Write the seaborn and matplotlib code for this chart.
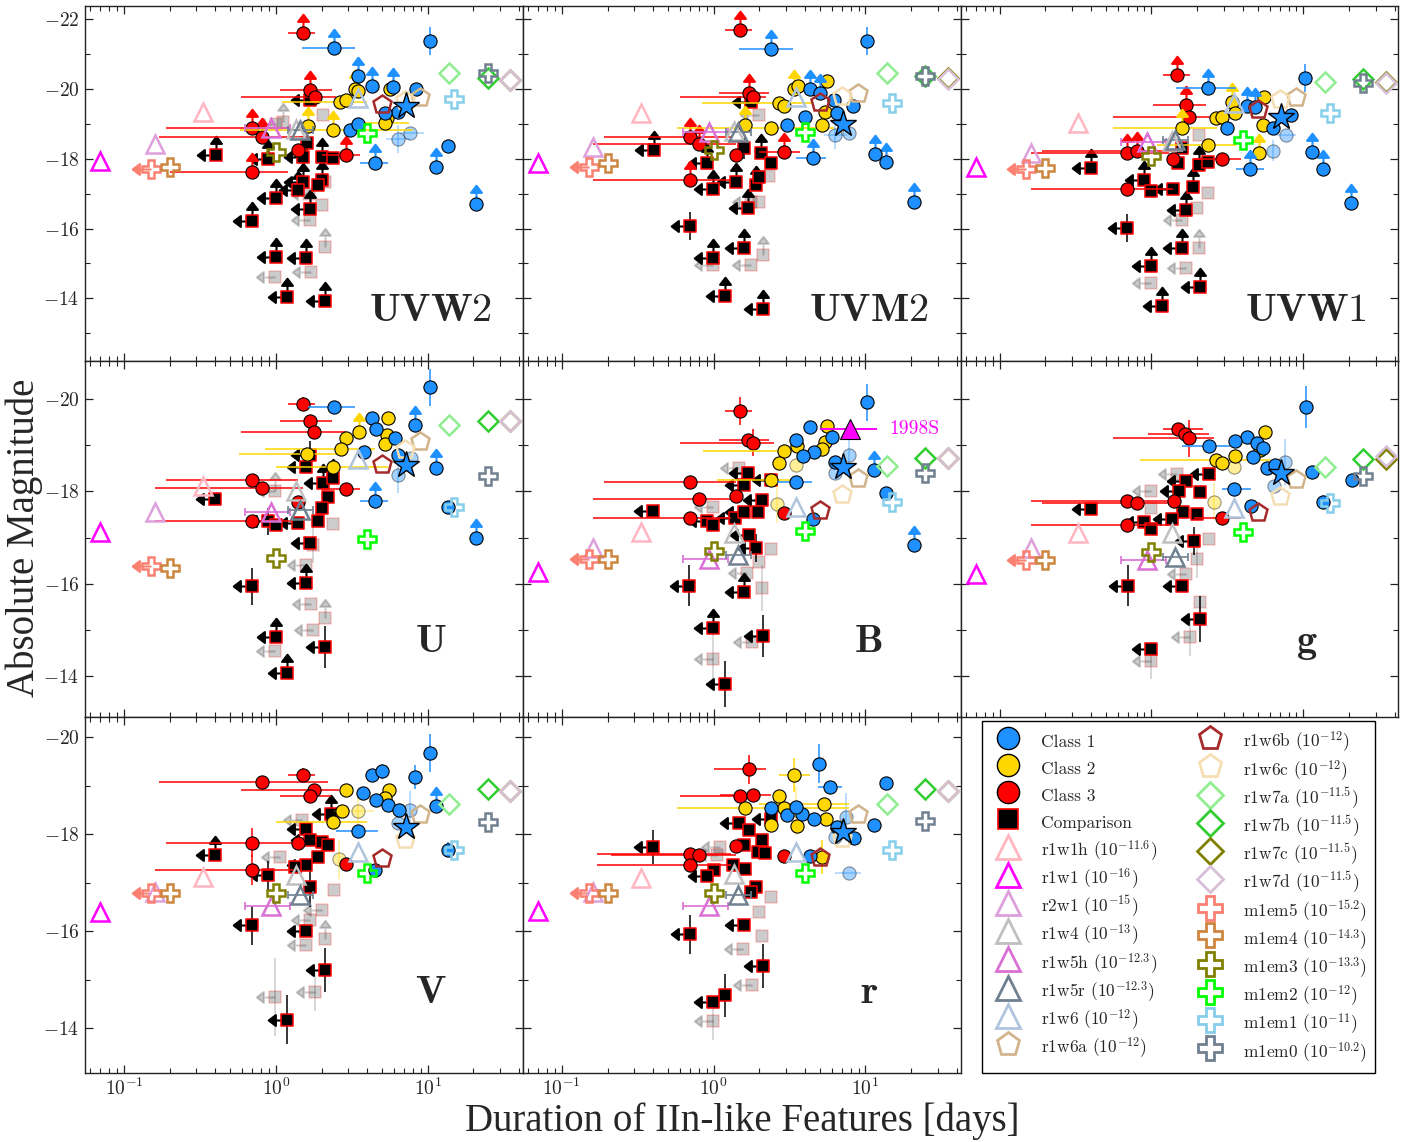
import numpy as np
import pandas as pd
import matplotlib
matplotlib.use("Agg")
import matplotlib.pyplot as plt
from matplotlib.path import Path
from matplotlib.transforms import Affine2D
from matplotlib.lines import Line2D
from matplotlib.ticker import MultipleLocator, LogLocator, FuncFormatter, NullFormatter
import seaborn as sns

# ---------------------------------------------------------------------------
# Data.  Each sample row: (duration [d], peak abs. mag, flags, dur_lo, dur_hi, mag_err)
# flags: 'L' = duration is an upper limit, 'U' = magnitude is a brightness lower limit,
#        'f' = uncertain object (drawn faded)
# ---------------------------------------------------------------------------
BANDS = ["UVW2", "UVM2", "UVW1", "U", "B", "g", "V", "r"]

CLASS1_UVW2 = [(2.41, -21.19, "U", 1.48, 3.31), (10.3, -21.39, "", None, None, 0.4),
               (3.49, -20.37, "U"), (4.27, -20.09, "U"), (5.93, -20.05, "U"), (8.36, -19.99),
               (6.39, -19.35), (5.2, -19.30), (3.07, -18.83), (3.5, -19.0),
               (4.49, -17.87, "U", 3.6, 5.5), (11.4, -17.77, "U"), (13.6, -18.38), (20.8, -16.70, "U"),
               (6.39, -18.56, "f", 5.3, 7.6, 0.4), (7.71, -18.73, "f", 6.6, 9.5)]
CLASS2_UVW2 = [(2.39, -18.83, "U", 0.58, 8.0), (2.64, -19.62, "", 1.1, 4.0), (2.92, -19.69),
               (3.31, -19.99, "U"), (3.49, -19.93), (5.63, -19.99), (5.36, -19.16),
               (5.22, -19.02, "", 3.5, 7.5), (1.63, -18.94, "U")]
CLASS3_UVW2 = [(1.50, -21.60, "U", 1.21, 1.81), (1.67, -19.97, "U", 1.06, 2.33),
               (1.81, -19.78, "", 0.59, 2.5), (0.70, -18.87, "U", 0.19, 1.24),
               (0.805, -18.63, "U", 0.17, 1.5), (1.40, -18.25), (2.92, -18.11, "U", 2.0, 3.6),
               (0.70, -17.61, "U", 0.2, 1.2)]
COMPARISON_UVW2 = [(0.403, -18.11, "LU"), (1.69, -19.69, "L"), (1.60, -18.45, "", None, None, 0.3),
                   (0.89, -17.98, "LU"), (1.51, -18.06, "L"), (2.0, -18.06, "U"), (2.39, -18.01),
                   (1.51, -17.34, "LU"), (2.0, -17.39, "U"), (1.9, -17.25), (1.39, -17.10, "LU"),
                   (1.0, -16.88, "LU"), (1.69, -16.56, "LU"), (0.70, -16.22, "LU"), (1.0, -15.19, "LU"),
                   (1.59, -15.16, "LU"), (1.19, -14.05, "LU"), (2.10, -13.93, "LU"),
                   (1.12, -19.06, "fU"), (2.03, -19.26, "f"), (1.0, -19.0, "fL"), (2.1, -17.34, "f"),
                   (2.0, -16.67, "f"), (1.67, -16.24, "fL"), (2.1, -15.48, "fU"), (0.99, -14.62, "fL"),
                   (1.71, -14.76, "fL"), (1.65, -17.0, "fL")]

CLASS1_UVM2 = [(2.39, -21.14, "U", 1.46, 3.33), (10.3, -21.39, "", None, None, 0.4),
               (4.34, -19.99, "U"), (5.05, -19.88, "U"), (6.2, -19.7), (8.25, -19.50), (6.50, -19.30),
               (3.05, -18.97), (4.0, -19.2), (4.52, -18.01, "U", 3.5, 5.5), (11.5, -18.14, "U"),
               (13.7, -17.90, "U"), (20.8, -16.77, "U"),
               (6.34, -18.68, "f", 5.3, 7.6, 0.4), (7.77, -18.73, "f")]
CLASS2_UVM2 = [(5.59, -20.24), (3.40, -19.99, "U"), (2.68, -19.59, "", 0.84, 4.5), (2.90, -19.50),
               (5.45, -19.35), (5.18, -18.97), (2.39, -18.87, "", 0.57, 6.2), (1.62, -18.97, "U"),
               (3.6, -20.1)]
CLASS3_UVM2 = [(1.50, -21.69, "U", 1.19, 1.79), (1.70, -19.88, "U", 1.08, 2.31),
               (1.82, -19.76, "", 0.60, 2.2), (0.70, -18.63, "U", 0.19, 1.3),
               (0.80, -18.42, "U", 0.16, 1.4), (1.41, -18.11), (2.90, -18.20, "U", 2.0, 3.7),
               (0.70, -17.39, "U", 0.16, 1.29)]
COMPARISON_UVM2 = [(0.402, -18.25, "LU"), (1.75, -19.64, "L"), (1.59, -18.30, "", None, None, 0.3),
                   (0.90, -17.89, "LU"), (2.05, -18.16, "U"), (2.39, -17.87), (1.41, -17.34, "LU"),
                   (1.91, -17.25, "U"), (2.0, -17.49), (0.99, -17.12, "LU"), (1.68, -16.58, "LU"),
                   (0.70, -16.07, "L", None, None, 0.4), (0.99, -15.16, "LU"), (1.59, -15.43, "LU"),
                   (1.19, -14.06, "LU"), (2.10, -13.68, "LU"),
                   (2.0, -19.26, "fL"), (2.0, -16.77, "f"), (1.75, -16.77, "fL"), (2.1, -15.24, "fU"),
                   (1.75, -14.95, "fL"), (0.99, -14.95, "fL"), (2.3, -17.5, "f")]

CLASS1_UVW1 = [(2.37, -20.02, "U", 1.46, 3.6), (10.3, -20.31, "", None, None, 0.4),
               (4.23, -19.51, "U"), (4.8, -19.48, "U"), (8.3, -19.26), (6.35, -18.87), (3.13, -18.87),
               (4.45, -17.70, "U", 3.6, 5.5), (11.4, -18.20, "U"), (13.5, -17.70, "U"),
               (20.6, -16.72, "U"), (6.35, -18.23, "f", None, None, 0.3), (7.69, -18.68, "f", 6.6, 9.0)]
CLASS2_UVW1 = [(5.5, -19.78), (3.37, -19.64, "U"), (3.54, -19.30), (2.68, -19.16), (2.9, -19.21),
               (1.58, -18.87, "U", 0.56, 2.7), (5.4, -18.97), (2.37, -18.40, "", 1.08, 3.6),
               (5.13, -18.16, "U")]
CLASS3_UVW1 = [(1.48, -20.40, "U", 1.2, 1.8), (1.68, -19.54, "U", 1.03, 2.3),
               (1.77, -19.21, "", 0.56, 2.6), (0.69, -18.16, "U", 0.16, 1.3),
               (0.80, -18.23, "U", 0.19, 1.5), (1.39, -17.98), (2.9, -18.0, "", 1.9, 3.9),
               (0.69, -17.12, "", 0.16, 1.39)]
COMPARISON_UVW1 = [(0.398, -17.73, "LU"), (1.6, -18.3), (0.89, -17.39, "LU"), (1.39, -17.12, "L"),
                   (1.0, -17.09), (1.88, -17.20, "U"), (2.06, -17.82, "U"), (2.37, -17.92), (1.5, -17.87),
                   (1.68, -16.53, "LU"), (0.69, -16.02, "L", None, None, 0.4), (1.58, -15.45, "LU"),
                   (0.99, -14.93, "LU"), (2.08, -14.31, "LU"), (1.18, -13.79, "LU"),
                   (2.06, -18.68, "f"), (2.37, -17.03, "f"), (2.0, -16.58, "f"), (2.06, -15.43, "fU"),
                   (1.7, -14.86, "fL"), (0.99, -14.43, "fL"), (1.6, -16.25, "fL")]

CLASS1_U = [(2.41, -19.83, "", 1.62, 3.31), (10.3, -20.26, "", None, None, 0.4), (4.27, -19.60),
            (4.6, -19.36), (6.08, -19.15), (8.2, -19.43, "U"), (3.80, -18.85), (6.39, -18.79),
            (11.4, -18.50, "U"), (4.49, -17.79, "U", 3.6, 5.5), (13.6, -17.67), (20.8, -17.0, "U"),
            (6.39, -18.36, "f", None, None, 0.4), (7.8, -18.72, "f")]
CLASS2_U = [(5.5, -19.59), (3.54, -19.28, "U"), (2.92, -19.15), (2.67, -18.92, "", 0.85, 4.5),
            (5.36, -19.23), (5.22, -19.02), (1.61, -18.81, "", 0.57, 2.8), (2.39, -18.52, "", 1.0, 5.5)]
CLASS3_U = [(1.50, -19.90, "", 1.21, 1.81, 0.15), (1.69, -19.53, "", 1.06, 2.33),
            (1.79, -19.28, "", 0.59, 2.9), (0.70, -18.25, "", 0.19, 1.4), (0.81, -18.07, "", 0.16, 1.5),
            (1.39, -17.78), (2.92, -18.05, "", 2.0, 3.6), (0.70, -17.37, "", 0.16, 1.3)]
COMPARISON_U = [(0.40, -17.84, "L"), (1.69, -18.79, "L", None, None, 0.3), (1.59, -18.54, "L"),
                (2.05, -18.19, "LU"), (2.39, -18.29, "U"), (2.21, -17.87), (2.0, -17.64),
                (0.89, -17.35, "L", None, None, 0.3), (1.0, -17.27), (1.39, -17.31, "L"), (1.90, -17.35),
                (1.69, -16.88, "L"), (1.59, -16.02, "LU"), (0.70, -15.94, "L", None, None, 0.4),
                (1.0, -14.85, "LU"), (2.10, -14.63, "L", None, None, 0.45), (1.19, -14.07, "LU"),
                (0.99, -18.0, "fLU"), (2.39, -17.29, "f"), (1.75, -16.85, "f", None, None, 0.4),
                (1.59, -16.40, "fL"), (1.71, -15.57, "fL"), (2.1, -15.25, "fU"), (1.76, -15.0, "fL"),
                (0.99, -14.54, "fL")]

CLASS1_B = [(10.3, -19.93, "", None, None, 0.4), (4.30, -19.39), (3.5, -19.12), (6.03, -19.19),
            (4.56, -18.85), (3.88, -18.76), (6.34, -18.63), (3.47, -18.21, "", 2.6, 4.45),
            (11.35, -18.47, "U"), (13.7, -17.96), (4.52, -17.40), (20.8, -16.84, "U"),
            (6.34, -18.39, "f"), (7.77, -18.79, "f", None, None, 0.4)]
CLASS2_B = [(5.59, -19.42), (3.54, -18.99), (2.90, -18.88, "", 0.85, 5.2), (2.68, -18.61),
            (5.45, -19.07), (5.18, -18.92), (2.39, -18.25, "", 1.05, 3.5),
            (3.47, -18.58, "f"), (2.6, -17.72, "f", None, None, 0.4)]
CLASS3_B = [(1.50, -19.75, "", 1.19, 1.79, 0.3), (1.68, -19.12, "", 1.08, 2.31),
            (1.81, -19.06, "", 0.60, 2.5, 0.3), (0.70, -18.21, "", 0.19, 1.4),
            (0.80, -17.84, "", 0.16, 1.5), (1.41, -17.91), (2.9, -17.53), (0.70, -17.42, "", 0.16, 1.3)]
COMPARISON_B = [(0.40, -17.58, "L"), (1.68, -18.39, "L"), (2.39, -18.25, "L"), (1.59, -18.14, "L"),
                (2.08, -17.82, "L"), (1.39, -17.42, "L"), (1.59, -17.56, "L"), (1.95, -17.56),
                (0.90, -17.35, "L"), (0.99, -17.27), (1.7, -17.06, "L"), (1.91, -16.78, "L", None, None, 0.3),
                (0.69, -15.96, "L", None, None, 0.45), (1.59, -15.83, "LU"), (0.99, -15.03, "LU"),
                (2.1, -14.87, "L", None, None, 0.45), (1.19, -13.82, "L", None, None, 0.5),
                (1.46, -18.50, "fL"), (0.99, -17.67, "fL"), (2.4, -16.75, "f"), (1.98, -16.48, "f"),
                (1.66, -16.23, "fL"), (2.08, -15.91, "f", None, None, 0.5), (1.79, -14.74, "fL"),
                (0.99, -14.37, "fL", None, None, 0.6)]

CLASS1_g = [(10.4, -19.83, "", None, None, 0.45), (4.27, -19.19), (3.53, -19.10), (4.98, -19.05),
            (5.4, -18.95), (2.39, -18.99, "", 1.6, 3.3), (4.68, -18.74), (5.79, -18.50), (6.47, -18.57),
            (3.49, -18.06, "", 2.9, 4.5), (11.35, -18.43), (20.8, -18.25),
            (13.5, -17.78, "", None, None, 0.15), (4.5, -17.69),
            (7.6, -18.64, "f", None, None, 0.5), (6.4, -18.12, "f")]
CLASS2_g = [(5.56, -19.28), (5.18, -18.90), (3.53, -18.77), (2.68, -18.69, "", 0.84, 6.0), (2.9, -18.61),
            (3.5, -18.52, "f"), (2.6, -17.78, "f", None, None, 0.4)]
CLASS3_g = [(1.50, -19.35, "", 1.2, 2.2), (1.67, -19.24, "", 0.95, 2.4), (1.76, -19.15, "", 0.56, 2.6, 0.4),
            (0.69, -17.80, "", 0.16, 1.3), (0.80, -17.76, "", 0.19, 1.4), (1.40, -17.80),
            (2.9, -17.42, "", 1.9, 3.9), (0.69, -17.28, "", 0.16, 1.3)]
COMPARISON_g = [(0.40, -17.63, "L"), (2.39, -18.38, "L"), (1.70, -18.23, "L"), (1.51, -18.01, "L"),
                (2.08, -17.98), (1.62, -17.56), (1.99, -17.51), (1.37, -17.40, "L"), (0.89, -17.33, "L"),
                (1.0, -17.18), (1.9, -16.93, "L", None, None, 0.3), (0.70, -15.96, "L", None, None, 0.45),
                (1.59, -15.96, "L"), (2.1, -15.23, "L", None, None, 0.5), (1.0, -14.58, "L"),
                (1.48, -18.38, "fL"), (1.0, -18.01, "fL"), (1.0, -17.65, "f"), (2.4, -16.97, "f"),
                (2.0, -16.53, "f", None, None, 0.4), (1.7, -16.21, "fL"), (2.08, -15.61, "f"),
                (1.79, -14.84, "fL", None, None, 0.4), (1.0, -14.33, "fL", None, None, 0.4)]

CLASS1_V = [(10.3, -19.67, "", None, None, 0.4), (4.27, -19.22), (4.97, -19.29, "", None, None, 0.15),
            (8.2, -19.18, "", None, None, 0.25), (3.76, -18.85), (4.6, -18.70), (5.5, -18.6),
            (6.49, -18.49), (11.4, -18.58, "U"), (3.49, -18.07, "", 2.5, 4.7),
            (13.6, -17.68, "", None, None, 0.15), (4.49, -17.26),
            (6.39, -18.22, "f"), (7.7, -18.49, "f", None, None, 0.4)]
CLASS2_V = [(2.89, -18.90), (5.57, -18.90), (5.22, -18.75), (2.71, -18.48), (2.39, -18.25, "", 1.0, 4.0),
            (3.49, -18.48, "f", 2.4, 4.4, 0.4), (2.6, -17.48, "f", None, None, 0.4)]
CLASS3_V = [(1.50, -19.22, "", 1.21, 1.81, 0.15), (0.81, -19.07, "", 0.17, 2.2), (1.79, -18.90, "", 0.59, 2.6),
            (1.69, -18.78, "", 1.06, 2.3), (0.70, -17.82, "", 0.19, 1.4, 0.3), (1.39, -17.81),
            (0.70, -17.26, "", 0.16, 1.3, 0.3), (2.92, -17.39)]
COMPARISON_V = [(0.40, -17.57, "LU"), (2.32, -18.42, "LU"), (1.59, -18.11, "L"), (1.69, -17.87, "L"),
                (2.0, -17.84), (2.21, -17.77), (1.9, -17.53), (1.59, -17.36, "L"), (1.33, -17.32),
                (0.89, -17.15, "L", None, None, 0.3), (1.69, -16.91, "", None, None, 0.4),
                (0.70, -16.12, "L", None, None, 0.4), (1.59, -16.01, "L"),
                (2.10, -15.20, "L", None, None, 0.45), (1.19, -14.18, "L", None, None, 0.5),
                (1.48, -18.29, "fL"), (1.06, -17.53, "fL"), (2.4, -16.85, "f"), (2.0, -16.43, "fL"),
                (1.67, -16.23, "fL"), (2.1, -15.85, "fU"), (1.59, -15.71, "fL"),
                (1.8, -14.75, "fL", None, None, 0.4), (0.99, -14.65, "fL", None, None, 0.8)]

CLASS1_r = [(4.98, -19.45, "", None, None, 0.4), (5.88, -18.98, "", 4.9, 7.0), (13.7, -19.05),
            (11.35, -18.18), (2.39, -18.53), (3.05, -18.39), (3.82, -18.42), (4.56, -18.32),
            (6.5, -18.15), (8.4, -17.91), (4.30, -17.55), (3.47, -18.56),
            (7.77, -17.19, "f", 6.3, 9.3), (7.4, -18.35, "f", None, None, 0.5), (6.3, -17.94, "f")]
CLASS2_r = [(3.40, -19.22, "", 2.7, 4.3, 0.35), (2.68, -18.78), (2.90, -18.54, "", 0.57, 7.8),
            (1.62, -18.53), (5.37, -18.63, "", 2.0, 7.8), (5.53, -18.31), (2.39, -18.18), (3.54, -18.16),
            (5.18, -17.53, "", None, None, 0.35), (3.47, -18.49, "f", None, None, 0.5)]
CLASS3_r = [(1.70, -19.33, "", 1.0, 2.2, 0.3), (1.50, -18.79, "", 0.60, 2.0), (1.81, -18.80, "", 1.1, 2.4),
            (0.70, -17.59, "", 0.17, 1.3), (0.80, -17.57, "", 0.21, 1.4), (0.70, -17.36, "", 0.17, 1.3),
            (1.41, -17.75), (2.9, -17.55)]
COMPARISON_r = [(0.40, -17.74, "L", None, None, 0.35), (1.48, -18.22, "L"), (1.70, -18.08),
                (2.39, -18.32, "L"), (2.08, -17.87), (1.95, -17.63), (2.19, -17.61), (1.59, -17.77),
                (1.35, -17.36), (1.62, -17.29), (1.0, -17.26), (0.90, -17.14, "L"), (1.91, -16.91),
                (1.75, -16.81), (1.59, -16.12, "L"), (0.70, -15.94, "L", None, None, 0.4),
                (2.10, -15.28, "L", None, None, 0.45), (1.19, -14.68, "", None, None, 0.45),
                (0.99, -14.55, "L"),
                (1.1, -17.74, "fL"), (1.05, -17.57, "fL"), (2.4, -16.71, "f"), (1.98, -16.40, "f"),
                (2.08, -15.90, "f"), (1.56, -15.64, "fL"), (1.79, -14.89, "fL"),
                (0.99, -14.16, "fL", None, None, 0.4)]

# Models: name, log10 of the mass-loss parameter, duration, and peak magnitude per band
MODEL_NAMES = ["r1w1h", "r1w1", "r2w1", "r1w4", "r1w5h", "r1w5r", "r1w6", "r1w6a", "r1w6b", "r1w6c",
               "r1w7a", "r1w7b", "r1w7c", "r1w7d", "m1em5", "m1em4", "m1em3", "m1em2", "m1em1", "m1em0"]
MODEL_EXPONENTS = ["-11.6", "-16", "-15", "-13", "-12.3", "-12.3", "-12", "-12", "-12", "-12",
                   "-11.5", "-11.5", "-11.5", "-11.5", "-15.2", "-14.3", "-13.3", "-12", "-11", "-10.2"]
MODEL_DURATION = [0.33, 0.07, 0.16, 1.36, 0.93, 1.44, 3.48, 8.95, 5.0, 7.05,
                  13.9, 24.8, 35.0, 35.0, 0.15, 0.2, 1.0, 4.0, 15.0, 24.8]
MODEL_DURATION_RANGE = {"r1w5h": (0.63, 1.24), "r1w5r": (1.2, 1.75)}
MODEL_DURATION_UPPER_LIMIT = ["m1em5"]
MODEL_MAG_UVW2 = [-19.35, -17.94, -18.42, -18.85, -18.87, -18.83, -19.74, -19.78, -19.57, -19.69,
                  -20.45, -20.31, -20.26, -20.26, -17.71, -17.77, -18.20, -18.73, -19.71, -20.47]
MODEL_MAG_UVM2 = [-19.30, -17.87, -18.35, -18.80, -18.78, -18.78, -19.78, -19.88, -19.64, -19.80,
                  -20.47, -20.36, -20.31, -20.28, -17.77, -17.87, -18.25, -18.78, -19.61, -20.37]
MODEL_MAG_UVW1 = [-19.02, -17.77, -18.16, -18.50, -18.49, -18.54, -19.59, -19.76, -19.42, -19.71,
                  -20.21, -20.28, -20.20, -20.18, -17.70, -17.73, -18.08, -18.54, -19.32, -20.16]
MODEL_MAG_U = [-18.11, -17.13, -17.56, -18.00, -17.56, -17.60, -18.70, -19.10, -18.59, -18.92,
               -19.44, -19.52, -19.52, -19.52, -16.39, -16.33, -16.55, -16.97, -17.67, -18.34]
MODEL_MAG_B = [-17.13, -16.26, -16.78, -17.09, -16.54, -16.62, -17.67, -18.30, -17.60, -17.94,
               -18.55, -18.73, -18.72, -18.72, -16.54, -16.54, -16.70, -17.14, -17.78, -18.39]
MODEL_MAG_g = [-17.11, -16.21, -16.77, -17.11, -16.52, -16.57, -17.65, -18.28, -17.56, -17.91,
               -18.53, -18.70, -18.70, -18.77, -16.52, -16.52, -16.68, -17.13, -17.76, -18.34]
MODEL_MAG_V = [-17.12, -16.40, -16.81, -17.15, -16.52, -16.74, -17.63, -18.41, -17.50, -17.89,
               -18.61, -18.92, -18.89, -18.89, -16.78, -16.78, -16.79, -17.19, -17.67, -18.25]
MODEL_MAG_r = [-17.10, -16.41, -16.81, -17.17, -16.52, -16.74, -17.63, -18.42, -17.53, -17.91,
               -18.63, -18.92, -18.89, -18.89, -16.78, -16.78, -16.79, -17.20, -17.67, -18.26]

STAR_DURATION = 7.15
STAR_MAG = [-19.50, -19.00, -19.19, -18.58, -18.52, -18.40, -18.15, -18.05]

SN1998S_DURATION = 7.95
SN1998S_DURATION_RANGE = (5.0, 11.9)
SN1998S_MAG_B = -19.36

# ---------------------------------------------------------------------------
# Styling
# ---------------------------------------------------------------------------
C1, C2, C3 = "#1E90FF", "#FFD700", "#FF0000"
MODEL_MARKERS = ["^"] * 7 + ["p"] * 3 + ["D"] * 4 + ["P"] * 6
MODEL_COLORS = ["#FFB6C1", "#FF00FF", "#DDA0DD", "#C0C0C0", "#DA70D6", "#708090", "#B0C4DE",
                "#D2B48C", "#A52A2A", "#F5DEB3",
                "#90EE90", "#32CD32", "#808000", "#D8BFD8",
                "#FA8072", "#CD853F", "#808000", "#00FF00", "#87CEEB", "#708090"]
MARKER_SIZE = {"^": 13, "p": 13.5, "D": 10, "P": 13}
LEGEND_SIZE = {"^": 17, "p": 17, "D": 13, "P": 17}

SAMPLES = {b: (globals()[f"COMPARISON_{b}"], globals()[f"CLASS3_{b}"],
               globals()[f"CLASS2_{b}"], globals()[f"CLASS1_{b}"]) for b in BANDS}
MODEL_MAGS = {b: globals()[f"MODEL_MAG_{b}"] for b in BANDS}

ROW_YLIM = [(-12.19, -22.39), (-13.11, -20.82), (-13.09, -20.41)]
XLIM = (0.0553, 42.3)
LABEL_Y = [0.113, 0.113, 0.113, 0.183, 0.183, 0.183, 0.195, 0.195]


def arrow_path(angle):
    # stem from the point outwards, then a filled arrow head
    verts = [(0, 0), (0, 0.66), (-0.29, 0.62), (0.29, 0.62), (0, 1.0), (-0.29, 0.62)]
    codes = [Path.MOVETO, Path.LINETO, Path.MOVETO, Path.LINETO, Path.LINETO, Path.CLOSEPOLY]
    return Path(verts, codes).transformed(Affine2D().rotate_deg(angle))


UP_ARROW = arrow_path(0)
LEFT_ARROW = arrow_path(90)
ARROW_MS = 27


def rows_frame(rows):
    padded = [tuple(r) + (None,) * (6 - len(r)) for r in rows]
    df = pd.DataFrame(padded, columns=["dur", "mag", "flags", "lo", "hi", "err"])
    df["flags"] = df["flags"].fillna("")
    df["faded"] = df["flags"].str.contains("f")
    return df


def draw_sample(ax, rows, face, edge, marker, ms, mew, arrow_color, err_color, z, faded_alpha):
    df = rows_frame(rows)
    for faded, sub in df.groupby("faded"):
        a = faded_alpha if faded else 1.0
        zz = z - 2 if faded else z
        for r in sub.itertuples():
            xerr = [[r.dur - r.lo], [r.hi - r.dur]] if pd.notna(r.lo) else None
            yerr = r.err if pd.notna(r.err) else None
            if xerr is not None or yerr is not None:
                ax.errorbar(r.dur, r.mag, xerr=xerr, yerr=yerr, fmt="none", ecolor=err_color,
                            elinewidth=1.1, capsize=0, alpha=a, zorder=zz - 0.6)
        for flag, mk in (("L", LEFT_ARROW), ("U", UP_ARROW)):
            lim = sub[sub["flags"].str.contains(flag)]
            if len(lim):
                ax.plot(lim["dur"], lim["mag"], ls="none", marker=mk, ms=ARROW_MS, mfc=arrow_color,
                        mec=arrow_color, mew=1.5, alpha=a, zorder=zz - 0.3)
        sns.scatterplot(data=sub, x="dur", y="mag", marker=marker, s=ms ** 2, color=face,
                        edgecolor=edge, linewidth=mew, alpha=a, zorder=zz, ax=ax, legend=False)


sns.set_style("ticks")
plt.rcParams.update({
    "font.family": ["cmr10", "DejaVu Serif"],
    "mathtext.fontset": "cm",
    "axes.formatter.use_mathtext": True,
    "axes.unicode_minus": False,
    "axes.edgecolor": "#222222",
    "axes.linewidth": 1.0,
})

fig, axes = plt.subplots(3, 3, figsize=(14.25, 11.42), dpi=100, sharex="col", sharey="row")
fig.subplots_adjust(left=0.0596, right=0.9813, top=0.995, bottom=0.0607, wspace=0, hspace=0)

for i, band in enumerate(BANDS):
    ax = axes.flat[i]
    comp, cl3, cl2, cl1 = SAMPLES[band]
    draw_sample(ax, comp, "black", "red", "s", 8.5, 1.1, "black", "black", 3, 0.2)
    draw_sample(ax, cl3, C3, "black", "o", 9.5, 0.8, C3, C3, 5, 0.4)
    draw_sample(ax, cl2, C2, "black", "o", 9.5, 0.8, C2, C2, 6, 0.4)
    draw_sample(ax, cl1, C1, "black", "o", 9.5, 0.8, C1, C1, 7, 0.4)

    mags = MODEL_MAGS[band]
    for j, name in enumerate(MODEL_NAMES):
        mk, col = MODEL_MARKERS[j], MODEL_COLORS[j]
        x, y = MODEL_DURATION[j], mags[j]
        if name in MODEL_DURATION_RANGE:
            lo, hi = MODEL_DURATION_RANGE[name]
            ax.errorbar(x, y, xerr=[[x - lo], [hi - x]], fmt="none", ecolor=col, elinewidth=1.2,
                        capsize=3, capthick=1.2, zorder=7.5)
        if name in MODEL_DURATION_UPPER_LIMIT:
            ax.plot(x, y, ls="none", marker=LEFT_ARROW, ms=ARROW_MS, mfc=col, mec=col, mew=1.5, zorder=7.6)
        ax.plot(x, y, ls="none", marker=mk, ms=MARKER_SIZE[mk], mfc="none", mec=col, mew=1.8, zorder=8)

    ax.plot(STAR_DURATION, STAR_MAG[i], ls="none", marker="*", ms=20, mfc=C1, mec="black",
            mew=1.0, zorder=9)

    if band == "B":
        lo, hi = SN1998S_DURATION_RANGE
        ax.errorbar(SN1998S_DURATION, SN1998S_MAG_B,
                    xerr=[[SN1998S_DURATION - lo], [hi - SN1998S_DURATION]], fmt="^", ms=15,
                    mfc="#FF00FF", mec="black", mew=0.8, ecolor="#FF00FF", elinewidth=1.4,
                    capsize=0, zorder=9)
        ax.text(14.3, SN1998S_MAG_B, "1998S", color="#FF00FF", fontsize=14, va="center", ha="left")

    ax.text(0.79, LABEL_Y[i], r"$\mathbf{%s}$" % band, transform=ax.transAxes, ha="center",
            va="baseline", fontsize=29, zorder=10)
    ax.set_xlabel("")
    ax.set_ylabel("")

for r in range(3):
    for c in range(3):
        ax = axes[r, c]
        ax.set_xscale("log")
        ax.set_xlim(*XLIM)
        ax.set_ylim(*ROW_YLIM[r])
        ax.xaxis.set_major_locator(LogLocator(base=10, numticks=10))
        ax.xaxis.set_minor_locator(LogLocator(base=10, subs=np.arange(2, 10), numticks=20))
        ax.xaxis.set_major_formatter(FuncFormatter(lambda v, p: r"$10^{%d}$" % round(np.log10(v))))
        ax.xaxis.set_minor_formatter(NullFormatter())
        ax.yaxis.set_major_locator(MultipleLocator(2))
        ax.yaxis.set_minor_locator(MultipleLocator(1))
        ax.yaxis.set_major_formatter(FuncFormatter(lambda v, p: r"$%d$" % round(v)))
        ax.tick_params(which="both", direction="in", top=True, right=True, labelsize=14,
                       color="#222222")
        ax.tick_params(which="major", length=6, width=0.9, pad=4)
        ax.tick_params(which="minor", length=3.5, width=0.8)

leg_ax = axes[2, 2]
leg_ax.axis("off")
handles = [
    Line2D([], [], ls="none", marker="o", ms=16, mfc=C1, mec="black", mew=1.0),
    Line2D([], [], ls="none", marker="o", ms=16, mfc=C2, mec="black", mew=1.0),
    Line2D([], [], ls="none", marker="o", ms=16, mfc=C3, mec="black", mew=1.0),
    Line2D([], [], ls="none", marker="s", ms=14, mfc="black", mec="red", mew=1.2),
]
labels = ["Class 1", "Class 2", "Class 3", "Comparison"]
for j, name in enumerate(MODEL_NAMES):
    mk = MODEL_MARKERS[j]
    handles.append(Line2D([], [], ls="none", marker=mk, ms=LEGEND_SIZE[mk], mfc="none",
                          mec=MODEL_COLORS[j], mew=2.0))
    labels.append(r"%s ($10^{%s}$)" % (name, MODEL_EXPONENTS[j]))
leg = leg_ax.legend(handles, labels, ncol=2, loc="upper left", bbox_to_anchor=(0.05, 0.99),
                    fontsize=12.5, frameon=True, fancybox=False, edgecolor="black", framealpha=1,
                    borderpad=0.5, labelspacing=0.18, handlelength=2.0, handleheight=1.75,
                    handletextpad=0.9, columnspacing=2.0, borderaxespad=0)
leg.get_frame().set_linewidth(1.0)

fig.text(0.521, 0.018, "Duration of IIn-like Features [days]", ha="center", va="center",
         fontsize=28, family="Liberation Serif")
fig.text(0.017, 0.529, "Absolute Magnitude", ha="center", va="center", rotation=90,
         fontsize=28, family="Liberation Serif")

fig.savefig("out.png", dpi=100)
